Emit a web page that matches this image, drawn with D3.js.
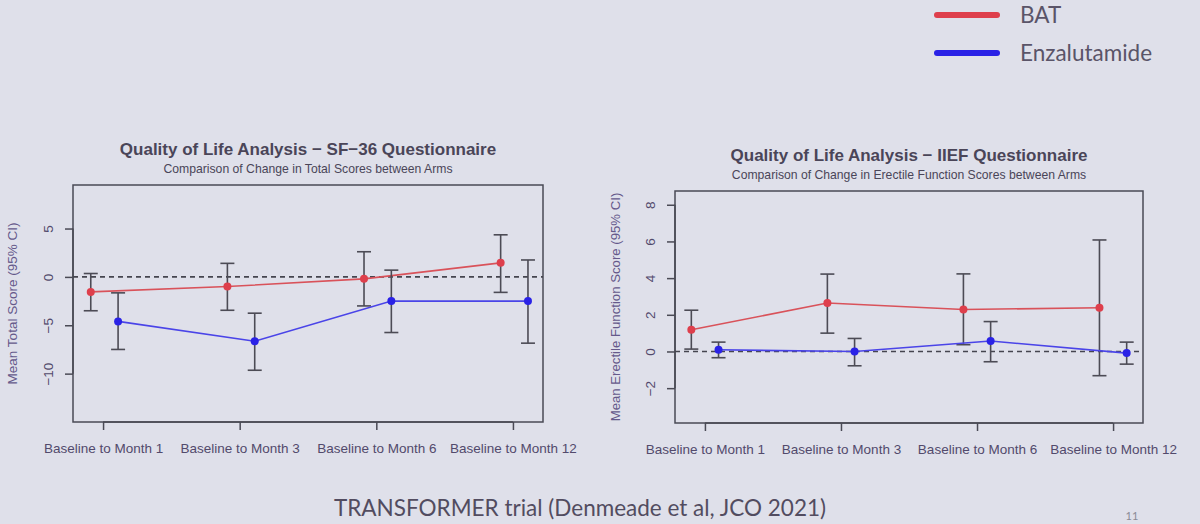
<!DOCTYPE html>
<html>
<head>
<meta charset="utf-8">
<script src="https://cdn.jsdelivr.net/npm/d3@7"></script>
<style>
  html, body { margin: 0; padding: 0; background: #dfe0ea; }
  svg { display: block; }
</style>
</head>
<body>
<div id="slide"></div>
<script>
// categories and values
var categories = ["Baseline to Month 1", "Baseline to Month 3", "Baseline to Month 6", "Baseline to Month 12"];

var sf36BatMean = [-1.55, -1.0, -0.2, 1.45];
var sf36BatLow  = [-3.5, -3.45, -3.0, -1.6];
var sf36BatHigh = [0.35, 1.4, 2.6, 4.35];
var sf36EnzMean = [-4.6, -6.65, -2.5, -2.5];
var sf36EnzLow  = [-7.5, -9.65, -5.75, -6.85];
var sf36EnzHigh = [-1.65, -3.75, 0.7, 1.75];

var iiefBatMean = [1.18, 2.64, 2.29, 2.38];
var iiefBatLow  = [0.13, 1.0, 0.37, -1.32];
var iiefBatHigh = [2.25, 4.22, 4.23, 6.08];
var iiefEnzMean = [0.09, 0.0, 0.57, -0.09];
var iiefEnzLow  = [-0.34, -0.78, -0.56, -0.69];
var iiefEnzHigh = [0.51, 0.71, 1.63, 0.51];

var sf36Ticks = [-10, -5, 0, 5];
var iiefTicks = [-2, 0, 2, 4, 6, 8];

var legendNames = ["BAT", "Enzalutamide"];
var armColors = ["#de3f4c", "#2a22e6"];
var lineColors = ["#d9525a", "#4a44e8"];

var width = 1200, height = 524;

var svg = d3.select("#slide").append("svg")
  .attr("width", width).attr("height", height);

svg.append("rect").attr("width", width).attr("height", height).style("fill", "#dfe0ea");

function minus(v) { return String(v).replace("-", "\u2212"); }

function drawChart(opt) {
  var x = d3.scaleLinear().domain([0.78, 4.22]).range([opt.left, opt.right]);
  var y = d3.scaleLinear().domain(opt.yDomain).range([opt.bottom, opt.top]);
  var g = svg.append("g");
  var cx = (opt.left + opt.right) / 2;

  g.append("text").attr("x", cx).attr("y", opt.top - 30)
    .attr("text-anchor", "middle")
    .style("font-family", "Liberation Sans, Arial, sans-serif")
    .style("font-weight", "bold").style("font-size", "17px")
    .style("fill", "#4a4558")
    .text(opt.title);
  g.append("text").attr("x", cx).attr("y", opt.top - 12)
    .attr("text-anchor", "middle")
    .style("font-family", "Liberation Sans, Arial, sans-serif")
    .style("font-size", "12.2px")
    .style("fill", "#4a4558")
    .text(opt.subtitle);

  // box
  g.append("rect")
    .attr("x", opt.left).attr("y", opt.top)
    .attr("width", opt.right - opt.left).attr("height", opt.bottom - opt.top)
    .style("fill", "none").style("stroke", "#4a4a55").style("stroke-width", 1.5);

  // y axis, R style labels parallel to axis
  var yAxis = g.append("g").attr("transform", "translate(" + opt.left + ",0)")
    .call(d3.axisLeft(y).tickValues(opt.ticks).tickSize(8).tickFormat(minus));
  yAxis.select(".domain")
    .attr("d", "M0," + y(opt.ticks[0]) + "V" + y(opt.ticks[opt.ticks.length - 1]))
    .style("stroke", "#4a4a55").style("stroke-width", 1.5);
  yAxis.selectAll(".tick line").style("stroke", "#4a4a55").style("stroke-width", 1.5);
  yAxis.selectAll(".tick text")
    .attr("x", null).attr("dy", null)
    .attr("text-anchor", "middle")
    .attr("transform", "translate(-20,0) rotate(-90)")
    .style("font-family", "Liberation Sans, Arial, sans-serif")
    .style("font-size", "13.5px").style("fill", "#524a6c");

  g.append("text")
    .attr("transform", "translate(" + opt.titleX + "," + ((opt.top + opt.bottom) / 2) + ") rotate(-90)")
    .attr("text-anchor", "middle").attr("dy", "0.35em")
    .style("font-family", "Liberation Sans, Arial, sans-serif")
    .style("font-size", opt.ylabSize).style("fill", "#65598a")
    .text(opt.ylab);

  // x axis
  var xAxis = g.append("g").attr("transform", "translate(0," + opt.bottom + ")")
    .call(d3.axisBottom(x).tickValues([1, 2, 3, 4]).tickSize(8)
      .tickFormat(function (d) { return categories[d - 1]; }));
  xAxis.select(".domain").attr("d", "M" + x(1) + ",0H" + x(4))
    .style("stroke", "#4a4a55").style("stroke-width", 1.5);
  xAxis.selectAll(".tick line").style("stroke", "#4a4a55").style("stroke-width", 1.5);
  xAxis.selectAll(".tick text")
    .attr("y", 31).attr("dy", null)
    .style("font-family", "Liberation Sans, Arial, sans-serif")
    .style("font-size", "13.5px").style("fill", "#524a6c");

  // zero reference
  g.append("line")
    .attr("x1", opt.left).attr("x2", opt.right)
    .attr("y1", y(0)).attr("y2", y(0))
    .style("stroke", "#45454f").style("stroke-width", 1.6)
    .style("stroke-dasharray", "5,4");

  opt.arms.forEach(function (arm, a) {
    var pts = arm.mean.map(function (m, i) {
      return { x: i + 1 + arm.shift, m: m, lo: arm.low[i], hi: arm.high[i] };
    });

    g.append("path").datum(pts)
      .attr("d", d3.line().x(function (d) { return x(d.x); }).y(function (d) { return y(d.m); }))
      .style("fill", "none").style("stroke", lineColors[a]).style("stroke-width", 1.6);

    var bars = g.append("g").selectAll("g").data(pts).enter().append("g")
      .style("stroke", "#4c4b55").style("stroke-width", 1.6);
    bars.append("line")
      .attr("x1", function (d) { return x(d.x); }).attr("x2", function (d) { return x(d.x); })
      .attr("y1", function (d) { return y(d.lo); }).attr("y2", function (d) { return y(d.hi); });
    bars.append("line")
      .attr("x1", function (d) { return x(d.x) - 7; }).attr("x2", function (d) { return x(d.x) + 7; })
      .attr("y1", function (d) { return y(d.lo); }).attr("y2", function (d) { return y(d.lo); });
    bars.append("line")
      .attr("x1", function (d) { return x(d.x) - 7; }).attr("x2", function (d) { return x(d.x) + 7; })
      .attr("y1", function (d) { return y(d.hi); }).attr("y2", function (d) { return y(d.hi); });

    g.append("g").selectAll("circle").data(pts).enter().append("circle")
      .attr("cx", function (d) { return x(d.x); })
      .attr("cy", function (d) { return y(d.m); })
      .attr("r", 4)
      .style("fill", armColors[a]);
  });
}

drawChart({
  left: 73, right: 543, top: 185, bottom: 422,
  yDomain: [-15, 9.5], ticks: sf36Ticks, titleX: 12, ylabSize: "13.5px",
  title: "Quality of Life Analysis \u2212 SF\u221236 Questionnaire",
  subtitle: "Comparison of Change in Total Scores between Arms",
  ylab: "Mean Total Score (95% CI)",
  arms: [
    { mean: sf36BatMean, low: sf36BatLow, high: sf36BatHigh, shift: -0.09 },
    { mean: sf36EnzMean, low: sf36EnzLow, high: sf36EnzHigh, shift: 0.11 }
  ]
});

drawChart({
  left: 675, right: 1143, top: 191, bottom: 423,
  yDomain: [-3.9, 8.75], ticks: iiefTicks, titleX: 615, ylabSize: "13.2px",
  title: "Quality of Life Analysis \u2212 IIEF Questionnaire",
  subtitle: "Comparison of Change in Erectile Function Scores between Arms",
  ylab: "Mean Erectile Function Score (95% CI)",
  arms: [
    { mean: iiefBatMean, low: iiefBatLow, high: iiefBatHigh, shift: -0.1 },
    { mean: iiefEnzMean, low: iiefEnzLow, high: iiefEnzHigh, shift: 0.1 }
  ]
});

// legend top right
var legend = svg.append("g").selectAll("g").data(legendNames).enter().append("g")
  .attr("transform", function (d, i) { return "translate(0," + (15 + i * 38) + ")"; });
legend.append("line")
  .attr("x1", 937).attr("x2", 997).attr("y1", 0).attr("y2", 0)
  .style("stroke", function (d, i) { return armColors[i]; })
  .style("stroke-width", 6).style("stroke-linecap", "round");
legend.append("text")
  .attr("x", 1020).attr("y", 0).attr("dy", "0.35em")
  .style("font-family", "Lato, sans-serif").style("font-size", "22.5px")
  .style("fill", "#5a5468")
  .text(function (d) { return d; });

svg.append("text")
  .attr("x", 580).attr("y", 516).attr("text-anchor", "middle")
  .style("font-family", "Lato, sans-serif").style("font-size", "22.5px")
  .style("fill", "#524c60")
  .text("TRANSFORMER trial (Denmeade et al, JCO 2021)");

svg.append("text")
  .attr("x", 1132).attr("y", 520).attr("text-anchor", "middle")
  .style("font-family", "Lato, sans-serif").style("font-size", "11px")
  .style("fill", "#8a8a96")
  .text("11");
</script>
</body>
</html>
